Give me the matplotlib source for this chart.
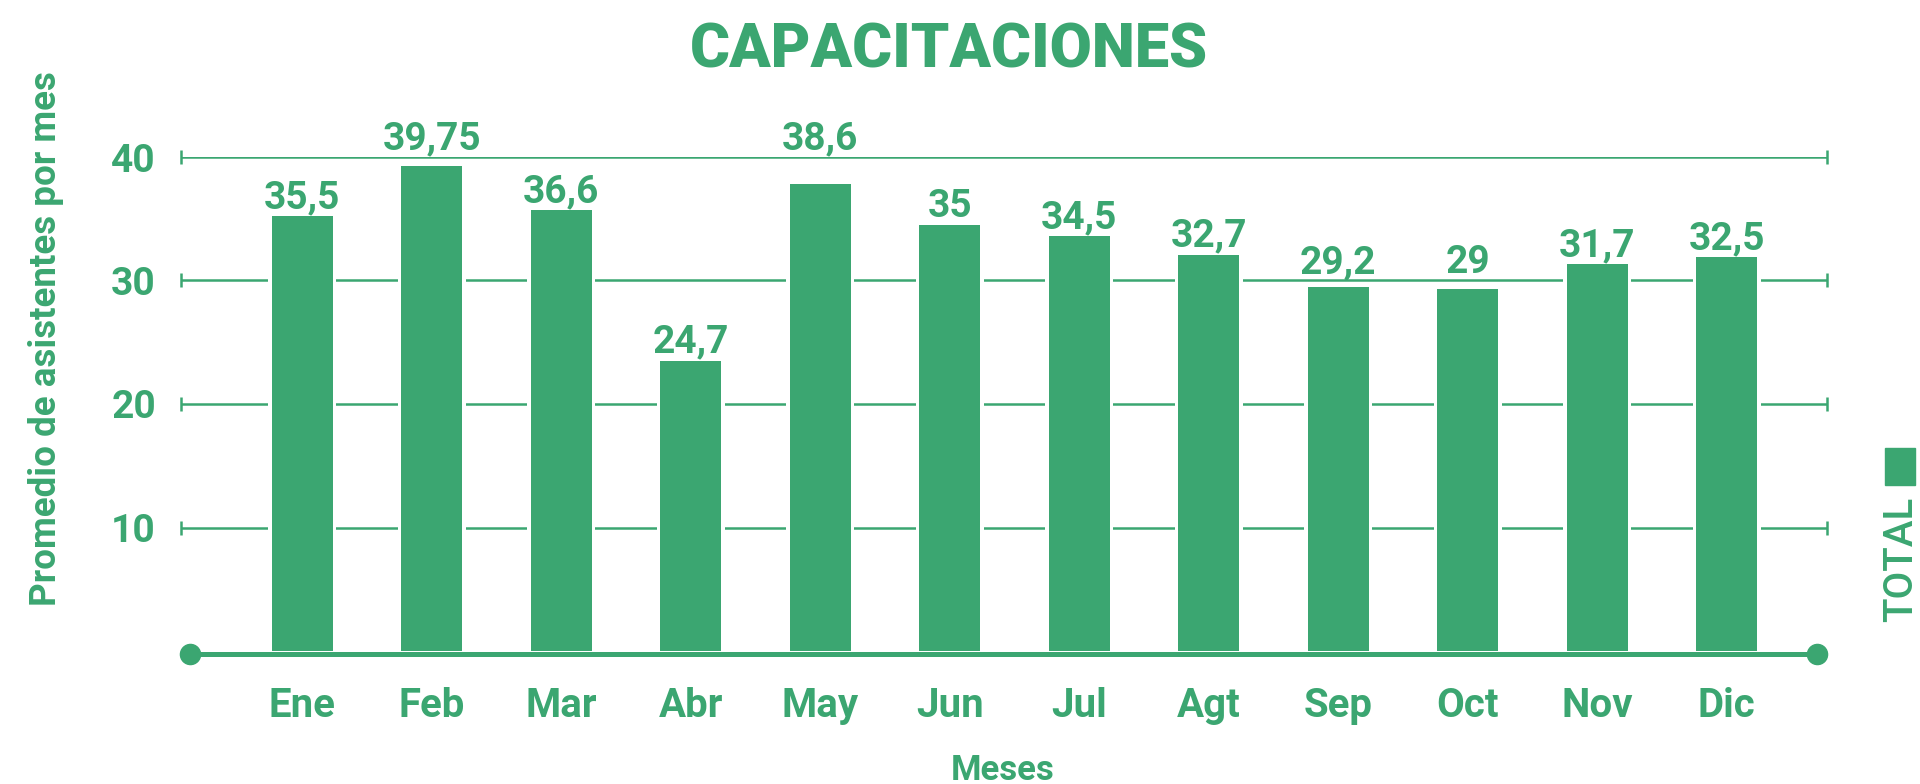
import matplotlib
matplotlib.use("Agg")
import matplotlib.pyplot as plt
from matplotlib import font_manager
from matplotlib.patches import Rectangle

# data
meses = ["Ene", "Feb", "Mar", "Abr", "May", "Jun", "Jul", "Agt", "Sep", "Oct", "Nov", "Dic"]
alturas = [35.2, 39.3, 35.7, 23.5, 37.8, 34.5, 33.6, 32.1, 29.5, 29.3, 31.3, 31.9]
etiquetas = ["35,5", "39,75", "36,6", "24,7", "38,6", "35", "34,5", "32,7", "29,2", "29", "31,7", "32,5"]
yticks = [10, 20, 30, 40]

VERDE = "#3BA671"

nombres = {f.name for f in font_manager.fontManager.ttflist}
narrow = "Liberation Sans Narrow" if "Liberation Sans Narrow" in nombres else "Roboto"

fig = plt.figure(figsize=(19.2, 7.84), dpi=100)
W, H = 1920, 784

# axes placed in pixels: x=0 at 302px, 129.5px per bar, y=0 at 651px
x0, x1 = -0.935, 11.775
ax = fig.add_axes([181 / W, 133 / H, 1646 / W, 494 / H])
ax.set_xlim(x0, x1)
ax.set_ylim(0, 40)
for s in ax.spines.values():
    s.set_visible(False)

xs = list(range(len(meses)))

## gridlines with end caps
ax.hlines(yticks, x0, x1, color=VERDE, lw=1.8, zorder=1)
ax.plot([x0] * len(yticks), yticks, ls="none", marker="|", ms=10, mew=1.8, color=VERDE, clip_on=False, zorder=1)
ax.plot([x1] * len(yticks), yticks, ls="none", marker="|", ms=10, mew=1.8, color=VERDE, clip_on=False, zorder=1)

## white backdrop so gridlines stop short of the bars
ax.bar(xs, alturas, width=0.526, color="white", zorder=2)
ax.bar(xs, alturas, width=0.471, color=VERDE, zorder=3)

## base axis line with dots
ax.plot([-0.865, 11.70], [-0.28, -0.28], color=VERDE, lw=3.6, marker="o", ms=14.5,
        solid_capstyle="butt", clip_on=False, zorder=4)

## value labels, pushed above a gridline when they would sit on it
for x, h, t in zip(xs, alturas, etiquetas):
    y = h + 0.65
    for g in yticks:
        if y - 0.3 < g < y + 2.5:
            y = g + 0.6
    ax.text(x, y, t, ha="center", va="baseline", color=VERDE, fontsize=28,
            fontfamily="Roboto", fontweight="bold", zorder=5)

ax.set_xticks(xs)
ax.set_xticklabels(meses, fontsize=29, fontfamily="Roboto", fontweight="bold", color=VERDE)
ax.set_yticks(yticks)
ax.set_yticklabels([str(v) for v in yticks], fontsize=28, fontfamily="Roboto", fontweight="bold", color=VERDE)
ax.tick_params(axis="x", length=0, pad=26)
ax.tick_params(axis="y", length=0, pad=18)

# title
fig.text(949 / W, 1 - 67 / H, "CAPACITACIONES", ha="center", va="baseline", color=VERDE,
         fontsize=44, fontfamily=narrow, fontweight="heavy")

# axis titles
fig.text(46 / W, 1 - 339 / H, "Promedio de asistentes por mes", rotation=90, ha="center", va="center",
         color=VERDE, fontsize=26.5, fontfamily="Roboto", fontweight="bold")
fig.text(1003 / W, 1 - 780 / H, "Meses", ha="center", va="baseline", color=VERDE,
         fontsize=25, fontfamily="Roboto", fontweight="bold")

# legend on the right
fig.patches.append(Rectangle((1885 / W, 1 - 485 / H), 30 / W, 37 / H, transform=fig.transFigure,
                             color=VERDE, figure=fig))
fig.text(1901 / W, 1 - 559 / H, "TOTAL", rotation=90, ha="center", va="center", color=VERDE,
         fontsize=29, fontfamily="Roboto", fontweight="medium")

fig.savefig("out.png", dpi=100)
